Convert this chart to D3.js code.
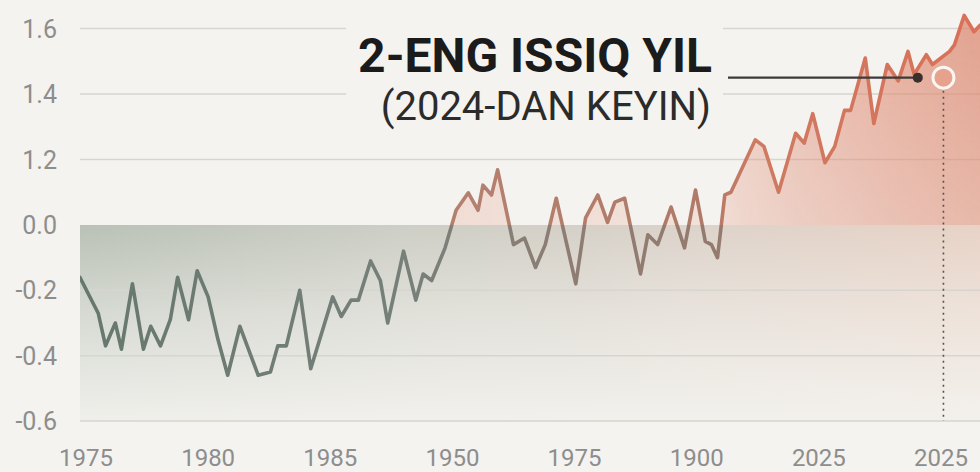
<!DOCTYPE html>
<html><head><meta charset="utf-8">
<script src="https://cdn.jsdelivr.net/npm/d3@7"></script>
<style>
html,body{margin:0;padding:0;background:#f4f3ef;}
svg{display:block;}
text{font-family:Roboto,"Liberation Sans",sans-serif;}
</style></head><body>
<svg id="c" width="980" height="472"></svg>
<script>
// ---- data ----
const xTickLabels = ["1975","1980","1985","1950","1975","1900","2025","2025"];
const yTickValues = [-0.6,-0.4,-0.2,0.0,1.2,1.4,1.6];
const yTickLabels = ["-0.6","-0.4","-0.2","0.0","1.2","1.4","1.6"];
// position along the x axis, in tick-slot units (tick i sits at i)
const positions = [-0.05,0.10,0.16,0.24,0.29,0.38,0.47,0.53,0.61,0.69,
  0.75,0.84,0.91,1.00,1.08,1.16,1.26,1.41,1.51,1.57,
  1.64,1.75,1.84,2.02,2.09,2.17,2.23,2.33,2.41,2.47,
  2.60,2.70,2.76,2.83,2.94,3.03,3.13,3.21,3.25,3.32,
  3.37,3.50,3.59,3.68,3.76,3.85,4.01,4.09,4.19,4.27,
  4.33,4.41,4.54,4.60,4.68,4.79,4.90,4.99,5.07,5.12,
  5.17,5.23,5.28,5.48,5.55,5.67,5.81,5.88,5.95,6.05,
  6.13,6.21,6.26,6.38,6.45,6.56,6.65,6.73,6.78,6.88,
  6.93,7.07,7.11,7.19,7.27,7.32];
const values = [-0.16,-0.27,-0.37,-0.30,-0.38,-0.18,-0.38,-0.31,-0.37,-0.29,
  -0.16,-0.29,-0.14,-0.22,-0.35,-0.46,-0.31,-0.46,-0.45,-0.37,
  -0.37,-0.20,-0.44,-0.22,-0.28,-0.23,-0.23,-0.11,-0.17,-0.30,
  -0.08,-0.23,-0.15,-0.17,-0.07,0.27,0.59,0.27,0.73,0.55,
  1.01,-0.06,-0.04,-0.13,-0.06,0.49,-0.18,0.13,0.55,0.05,
  0.42,0.49,-0.15,-0.03,-0.06,0.33,-0.07,0.64,-0.05,-0.06,
  -0.10,0.55,0.60,1.26,1.24,0.60,1.28,1.25,1.34,1.14,
  1.24,1.35,1.35,1.51,1.31,1.49,1.44,1.53,1.46,1.52,
  1.49,1.53,1.55,1.64,1.59,1.61];
const highlightPos = 7.02, highlightValue = 1.45;
const leaderPos = 6.81;
const titleText = "2-ENG ISSIQ YIL";
const subtitleText = "(2024-DAN KEYIN)";

// ---- layout ----
const W = 980, H = 472;
const plotLeft = 80, plotRight = 980;
const BG = "#f4f3ef";
const x = d3.scaleLinear().domain([0, 7]).range([86, 941]);
const y = d3.scaleLinear().domain([-0.6, 0, 1.2, 1.6]).range([421, 225, 159.5, 28.5]);
const data = positions.map((p, i) => ({p, v: values[i]}));

const svg = d3.select("#c");
svg.append("rect").attr("width", W).attr("height", H).attr("fill", BG);
const defs = svg.append("defs");

function hGrad(id, stops) {
  const g = defs.append("linearGradient").attr("id", id)
    .attr("gradientUnits", "userSpaceOnUse")
    .attr("x1", plotLeft).attr("x2", plotRight).attr("y1", 0).attr("y2", 0);
  stops.forEach(s => g.append("stop").attr("offset", (s[0] - plotLeft) / (plotRight - plotLeft))
    .attr("stop-color", s[1]).attr("stop-opacity", s[2] == null ? 1 : s[2]));
}
function vGrad(id, y1, y2, stops) {
  const g = defs.append("linearGradient").attr("id", id)
    .attr("gradientUnits", "userSpaceOnUse")
    .attr("x1", 0).attr("x2", 0).attr("y1", y1).attr("y2", y2);
  stops.forEach(s => g.append("stop").attr("offset", s[0]).attr("stop-color", s[1])
    .attr("stop-opacity", s[2] == null ? 1 : s[2]));
}

hGrad("bandH", [[80,"#b9c1b6"],[400,"#cdcec5"],[560,"#d4d0c7"],[700,"#ddd3ca"],[980,"#e8d2c6"]]);
vGrad("bandFade", y(0), y(-0.6), [[0, BG, 0],[0.45, BG, 0.5],[1, BG, 0.93]]);
hGrad("areaH", [[440,"#e5937b",0.3],[700,"#e5937b",0.26],[745,"#e3907a",0.4],[800,"#e08e78",0.52],[900,"#df8d76",0.68],[980,"#dd8b74",0.78]]);
vGrad("areaMaskG", 20, y(0), [[0,"#ffffff"],[1,"#b8b8b8"]]);
hGrad("lineBelow", [[80,"#66786d"],[400,"#76807a"],[560,"#8e7d74"],[720,"#957a6e"],[980,"#b0705e"]]);
hGrad("lineAbove", [[400,"#9a8070"],[460,"#b5806f"],[700,"#b07a69"],[760,"#cf7a62"],[980,"#da7058"]]);

defs.append("clipPath").attr("id", "clipAbove").append("rect")
  .attr("x", plotLeft).attr("y", 0).attr("width", plotRight - plotLeft).attr("height", y(0));
defs.append("clipPath").attr("id", "clipBelow").append("rect")
  .attr("x", plotLeft).attr("y", y(0)).attr("width", plotRight - plotLeft).attr("height", H - y(0));
const mask = defs.append("mask").attr("id", "areaMask").attr("maskUnits", "userSpaceOnUse")
  .attr("x", 0).attr("y", 0).attr("width", W).attr("height", H);
mask.append("rect").attr("x", 0).attr("y", 0).attr("width", W).attr("height", H).attr("fill", "url(#areaMaskG)");

// negative band
svg.append("rect").attr("x", plotLeft).attr("y", y(0)).attr("width", plotRight - plotLeft)
  .attr("height", y(-0.6) - y(0)).attr("fill", "url(#bandH)");
svg.append("rect").attr("x", plotLeft).attr("y", y(0)).attr("width", plotRight - plotLeft)
  .attr("height", y(-0.6) - y(0)).attr("fill", "url(#bandFade)");

// gridlines
svg.append("g").selectAll("line").data(yTickValues.filter(v => v !== 0)).join("line")
  .attr("x1", plotLeft).attr("x2", plotRight)
  .attr("y1", d => y(d)).attr("y2", d => y(d))
  .attr("stroke", "#d6d5cf").attr("stroke-width", 1.5);

// title block (with background that hides gridlines)
const tg = svg.append("g");
tg.append("text").attr("x", 712).attr("y", 72).attr("text-anchor", "end")
  .attr("font-size", 48).attr("font-weight", 700).attr("fill", "#1b1b1b")
  .text(titleText);
tg.append("text").attr("x", 711).attr("y", 120).attr("text-anchor", "end")
  .attr("font-size", 40).attr("font-weight", 400).attr("fill", "#2b2b2b").text(subtitleText);
const bb = tg.node().getBBox();
tg.insert("rect", ":first-child").attr("x", bb.x - 12).attr("y", 8)
  .attr("width", bb.width + 23).attr("height", 130).attr("fill", BG);

// positive area
const area = d3.area().x(d => x(d.p)).y0(y(0)).y1(d => y(d.v));
svg.append("g").attr("clip-path", "url(#clipAbove)").append("path").datum(data)
  .attr("d", area).attr("fill", "url(#areaH)").attr("mask", "url(#areaMask)");

// line
const line = d3.line().x(d => x(d.p)).y(d => y(d.v));
svg.append("g").attr("clip-path", "url(#clipBelow)").append("path").datum(data)
  .attr("d", line).attr("fill", "none").attr("stroke", "url(#lineBelow)")
  .attr("stroke-width", 3.6).attr("stroke-linejoin", "round").attr("stroke-linecap", "round");
svg.append("g").attr("clip-path", "url(#clipAbove)").append("path").datum(data)
  .attr("d", line).attr("fill", "none").attr("stroke", "url(#lineAbove)")
  .attr("stroke-width", 3.6).attr("stroke-linejoin", "round").attr("stroke-linecap", "round");

// annotation
const hx = x(highlightPos), hy = y(highlightValue);
svg.append("line").attr("x1", hx).attr("x2", hx).attr("y1", hy + 13).attr("y2", y(-0.6))
  .attr("stroke", "#555").attr("stroke-width", 1.6).attr("stroke-dasharray", "2,4");
svg.append("line").attr("x1", 728).attr("x2", x(leaderPos))
  .attr("y1", y(highlightValue)).attr("y2", y(highlightValue))
  .attr("stroke", "#3d3a38").attr("stroke-width", 2.4);
svg.append("circle").attr("cx", x(leaderPos)).attr("cy", y(highlightValue)).attr("r", 5)
  .attr("fill", "#3a2f2c");
svg.append("circle").attr("cx", hx).attr("cy", hy).attr("r", 10.5)
  .attr("fill", "#e6a28c").attr("stroke", "#fbf6f1").attr("stroke-width", 3);

// y axis labels
svg.append("g").selectAll("text").data(yTickValues).join("text")
  .attr("x", 57).attr("y", d => y(d)).attr("dy", "0.36em").attr("text-anchor", "end")
  .attr("font-size", 25).attr("fill", "#8d8d8d")
  .text((d, i) => yTickLabels[i]);

// x axis labels
svg.append("g").selectAll("text").data(xTickLabels).join("text")
  .attr("x", (d, i) => x(i)).attr("y", 466).attr("text-anchor", "middle")
  .attr("font-size", 24).attr("fill", "#8d8d8d")
  .text(d => d);
</script>
</body></html>
